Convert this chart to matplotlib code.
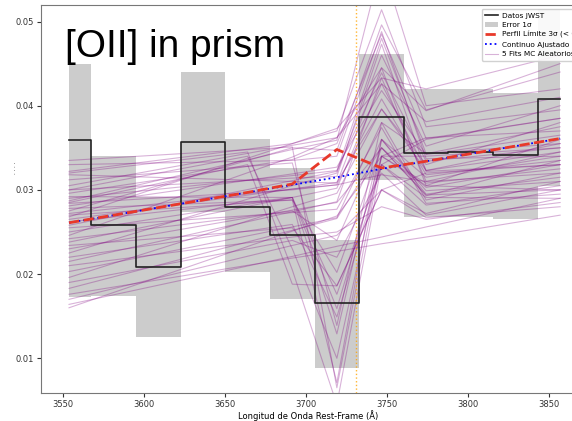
#!/usr/bin/env python3
"""
[OII] region of the JWST prism spectrum: binned data with 1-sigma errors,
the 3-sigma limiting line profile, the fitted continuum and a set of
Monte Carlo fits.
"""

import matplotlib.pyplot as plt
from matplotlib.patches import Patch

# Rest-frame wavelength of each prism pixel (Angstrom)
wave = [3553.7, 3581.3, 3608.8, 3636.4, 3663.9, 3691.5,
        3719.0, 3746.6, 3774.1, 3801.7, 3829.2, 3856.8]

# Measured flux and 1-sigma band
flux = [0.0359, 0.0258, 0.0208, 0.0357, 0.0280, 0.0247,
        0.0166, 0.0387, 0.0344, 0.0345, 0.0341, 0.0408]
err_low = [0.0173, 0.0174, 0.0125, 0.0274, 0.0202, 0.0170,
           0.0089, 0.0312, 0.0268, 0.0268, 0.0266, 0.0305]
err_high = [0.0450, 0.0340, 0.0292, 0.0440, 0.0361, 0.0326,
            0.0241, 0.0462, 0.0420, 0.0420, 0.0415, 0.0515]

# Fitted continuum and 3-sigma upper-limit profile
continuum = [0.0261, 0.0270, 0.0279, 0.0288, 0.0297, 0.0306,
             0.0315, 0.0325, 0.0334, 0.0343, 0.0352, 0.0361]
limit_profile = [0.0261, 0.0270, 0.0279, 0.0288, 0.0297, 0.0307,
                 0.0348, 0.0326, 0.0334, 0.0343, 0.0352, 0.0361]

# Monte Carlo fits, sampled at wave[0], wave[5:9] and wave[11]
mc_idx = [0, 5, 6, 7, 8, 11]
mc_fits = [
    [0.0335, 0.0351, 0.0065, 0.0340, 0.0362, 0.0370],
    [0.0330, 0.0335, 0.0340, 0.0488, 0.0337, 0.0340],
    [0.0322, 0.0355, 0.0370, 0.0514, 0.0375, 0.0395],
    [0.0318, 0.0310, 0.0308, 0.0445, 0.0305, 0.0300],
    [0.0312, 0.0332, 0.0139, 0.0380, 0.0343, 0.0355],
    [0.0305, 0.0353, 0.0362, 0.0426, 0.0381, 0.0410],
    [0.0300, 0.0314, 0.0316, 0.0473, 0.0322, 0.0330],
    [0.0296, 0.0336, 0.0355, 0.0485, 0.0361, 0.0385],
    [0.0292, 0.0291, 0.0176, 0.0330, 0.0291, 0.0290],
    [0.0290, 0.0317, 0.0323, 0.0439, 0.0334, 0.0350],
    [0.0287, 0.0348, 0.0359, 0.0570, 0.0400, 0.0420],
    [0.0284, 0.0300, 0.0306, 0.0318, 0.0310, 0.0320],
    [0.0281, 0.0319, 0.0327, 0.0418, 0.0342, 0.0365],
    [0.0278, 0.0288, 0.0202, 0.0350, 0.0294, 0.0300],
    [0.0275, 0.0350, 0.0347, 0.0496, 0.0395, 0.0440],
    [0.0272, 0.0301, 0.0306, 0.0408, 0.0318, 0.0335],
    [0.0270, 0.0288, 0.0071, 0.0360, 0.0299, 0.0310],
    [0.0268, 0.0355, 0.0373, 0.0433, 0.0420, 0.0460],
    [0.0265, 0.0301, 0.0309, 0.0396, 0.0323, 0.0345],
    [0.0262, 0.0291, 0.0159, 0.0340, 0.0308, 0.0325],
    [0.0258, 0.0311, 0.0322, 0.0480, 0.0343, 0.0375],
    [0.0255, 0.0273, 0.0277, 0.0374, 0.0284, 0.0295],
    [0.0250, 0.0291, 0.0129, 0.0360, 0.0315, 0.0340],
    [0.0246, 0.0339, 0.0362, 0.0445, 0.0394, 0.0450],
    [0.0242, 0.0275, 0.0240, 0.0360, 0.0295, 0.0315],
    [0.0238, 0.0291, 0.0302, 0.0426, 0.0323, 0.0355],
    [0.0234, 0.0255, 0.0186, 0.0300, 0.0267, 0.0280],
    [0.0230, 0.0276, 0.0285, 0.0350, 0.0303, 0.0330],
    [0.0225, 0.0305, 0.0320, 0.0460, 0.0352, 0.0400],
    [0.0220, 0.0259, 0.0149, 0.0330, 0.0282, 0.0305],
    [0.0215, 0.0274, 0.0286, 0.0433, 0.0310, 0.0345],
    [0.0210, 0.0244, 0.0250, 0.0280, 0.0265, 0.0285],
    [0.0203, 0.0256, 0.0267, 0.0380, 0.0288, 0.0320],
    [0.0196, 0.0280, 0.0296, 0.0396, 0.0330, 0.0380],
    [0.0190, 0.0240, 0.0220, 0.0320, 0.0270, 0.0300],
    [0.0183, 0.0252, 0.0266, 0.0350, 0.0293, 0.0335],
    [0.0176, 0.0219, 0.0227, 0.0236, 0.0244, 0.0270],
    [0.0170, 0.0234, 0.0246, 0.0300, 0.0272, 0.0310],
    [0.0164, 0.0221, 0.0233, 0.0244, 0.0256, 0.0290],
    [0.0160, 0.0251, 0.0269, 0.0340, 0.0305, 0.0360],
]

# Broader MC fits that also bend at wave[4]
mc_wide_idx = [0, 4, 5, 6, 7, 8, 11]
mc_wide = [
    [0.0320, 0.0345, 0.0205, 0.0045, 0.0330, 0.0360, 0.0385],
    [0.0300, 0.0340, 0.0230, 0.0100, 0.0340, 0.0340, 0.0350],
    [0.0285, 0.0330, 0.0188, 0.0186, 0.0300, 0.0320, 0.0330],
]

oii_rest = 3730.8

fig = plt.figure(figsize=(5.72, 4.21), dpi=100)
ax = fig.add_axes([0.0717, 0.0658, 0.935, 0.9223])

ax.step(wave, flux, where='mid', color='#222222', lw=1.2, zorder=3,
        label='Datos JWST')
ax.fill_between(wave, err_low, err_high, step='mid', color='gray',
                alpha=0.4, lw=0, zorder=1)
ax.plot(wave, limit_profile, color='#e8392a', ls='--', lw=2, zorder=4,
        label='Perfil Límite 3σ (< 0.5e-18)')
ax.plot(wave, continuum, color='blue', ls=':', lw=1.3, zorder=3.5,
        label='Continuo Ajustado')

mc_x = [wave[i] for i in mc_idx]
for k, fit in enumerate(mc_fits):
    ax.plot(mc_x, fit, color='purple', alpha=0.3, lw=0.8, zorder=2,
            label='5 Fits MC Aleatorios' if k == 0 else None)
mc_wx = [wave[i] for i in mc_wide_idx]
for fit in mc_wide:
    ax.plot(mc_wx, fit, color='purple', alpha=0.3, lw=0.8, zorder=2)

ax.axvline(oii_rest, color='orange', ls=':', lw=1, alpha=0.8, zorder=2.5)

ax.set_xlim(3536.4, 3866.5)
ax.set_ylim(0.00584, 0.05196)
ax.set_xticks([3550, 3600, 3650, 3700, 3750, 3800, 3850])
ax.set_yticks([0.01, 0.02, 0.03, 0.04, 0.05])
ax.tick_params(labelsize=6, length=3, width=0.8, pad=2, colors='#333333')
for spine in ax.spines.values():
    spine.set_color('#777777')
ax.set_xlabel('Longitud de Onda Rest-Frame (Å)', fontsize=6, labelpad=0.5)
fig.text(15 / 572, 1 - 168 / 421, '. . . .', rotation=90, fontsize=4,
         ha='center', va='center')

# Legend: put the error band in second place
handles, labels = ax.get_legend_handles_labels()
err_patch = Patch(facecolor='gray', alpha=0.4, label='Error 1σ')
handles.insert(1, err_patch)
labels.insert(1, 'Error 1σ')
fig.legend(handles, labels, loc='upper left',
           bbox_to_anchor=(478 / 572, 1 - 5 / 421), fontsize=5.3,
           framealpha=0.9, handlelength=1.7, handletextpad=0.6,
           borderpad=0.5, labelspacing=0.45)

fig.text(0.113, 0.865, '[OII] in prism', fontsize=28,
         family='Liberation Sans', va='baseline')

fig.savefig('out.png', dpi=100)
